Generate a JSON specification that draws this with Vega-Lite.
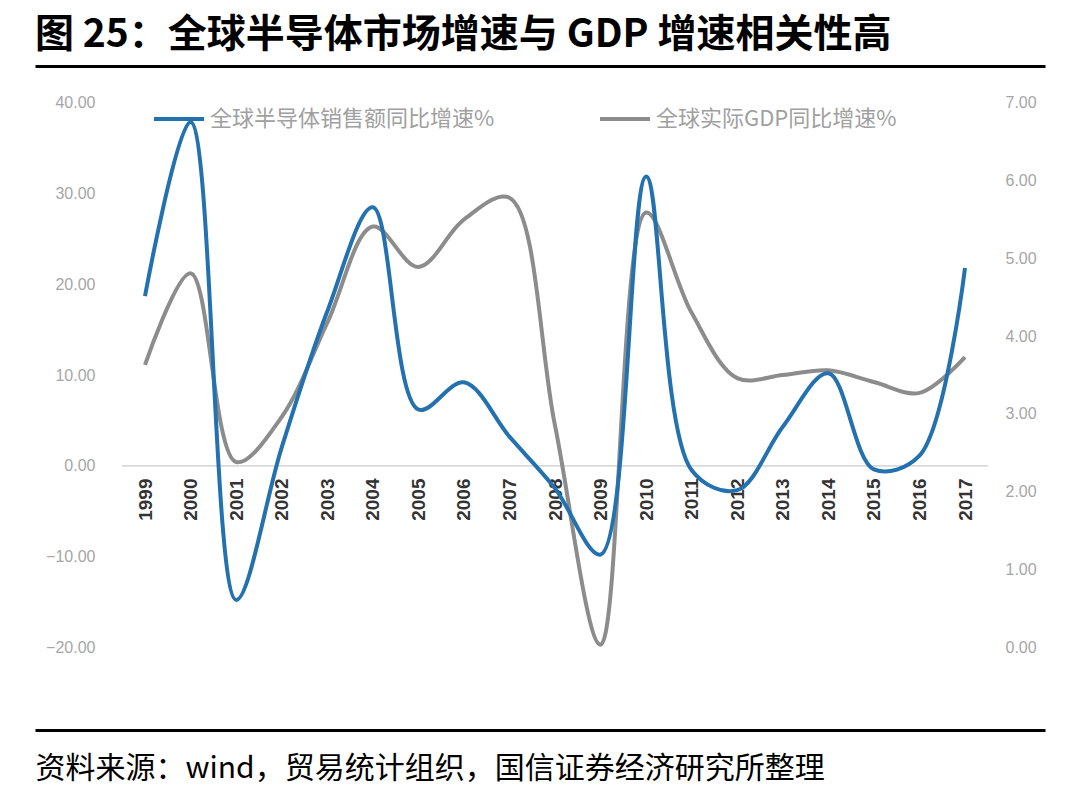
{
  "$schema": "https://vega.github.io/schema/vega-lite/v6.json",
  "width": 1010,
  "height": 664,
  "autosize": {"type": "none"},
  "padding": {"left": 35, "top": 66, "right": 35, "bottom": 64},
  "background": "white",
  "title": {
    "text": "图 25：全球半导体市场增速与 GDP 增速相关性高",
    "anchor": "start",
    "frame": "group",
    "font": "Noto Sans CJK SC",
    "fontSize": 39,
    "fontWeight": "bold",
    "color": "#000000",
    "offset": 11
  },
  "config": {"view": {"stroke": null}},
  "data": {
    "values": [
      {"year": "1999", "semi": 18.7, "gdp": 3.63},
      {"year": "2000", "semi": 37.9, "gdp": 4.81},
      {"year": "2001", "semi": -14.8, "gdp": 2.38},
      {"year": "2002", "semi": 2.0, "gdp": 2.96},
      {"year": "2003", "semi": 17.0, "gdp": 4.17},
      {"year": "2004", "semi": 28.5, "gdp": 5.41},
      {"year": "2005", "semi": 6.2, "gdp": 4.89},
      {"year": "2006", "semi": 9.2, "gdp": 5.5},
      {"year": "2007", "semi": 3.2, "gdp": 5.78},
      {"year": "2008", "semi": -2.5, "gdp": 2.85},
      {"year": "2009", "semi": -9.8, "gdp": 0.03},
      {"year": "2010", "semi": 31.9, "gdp": 5.59},
      {"year": "2011", "semi": -0.5, "gdp": 4.3},
      {"year": "2012", "semi": -2.7, "gdp": 3.46},
      {"year": "2013", "semi": 4.3, "gdp": 3.5},
      {"year": "2014", "semi": 10.2, "gdp": 3.56},
      {"year": "2015", "semi": -0.4, "gdp": 3.41},
      {"year": "2016", "semi": 1.1, "gdp": 3.27},
      {"year": "2017", "semi": 21.8, "gdp": 3.73}
    ]
  },
  "resolve": {
    "scale": {"x": "independent", "y": "independent"},
    "axis": {"x": "independent", "y": "independent"}
  },
  "layer": [
    {
      "data": {"values": [{}]},
      "mark": {"type": "rule", "color": "#d9d9d9", "strokeWidth": 1.5},
      "encoding": {
        "x": {
          "datum": 0,
          "type": "quantitative",
          "scale": {"domain": [-0.10046, 1.06582], "nice": false, "zero": false},
          "axis": {"orient": "top", "domain": true, "domainColor": "#000000", "domainWidth": 3, "labels": false, "ticks": false, "grid": false, "title": null}
        },
        "x2": {"datum": 1},
        "y": {
          "datum": 0,
          "type": "quantitative",
          "scale": {"domain": [-29.15, 44.08], "nice": false, "zero": false},
          "axis": null
        }
      }
    },
    {
      "data": {"values": [{}]},
      "mark": {"type": "rule", "color": "#d9d9d9", "strokeWidth": 1.5},
      "encoding": {
        "x": {
          "datum": 0,
          "type": "quantitative",
          "scale": {"domain": [-0.10046, 1.06582], "nice": false, "zero": false},
          "axis": {
            "orient": "bottom",
            "domain": true,
            "domainColor": "#000000",
            "domainWidth": 3,
            "labels": false,
            "ticks": false,
            "grid": false,
            "title": "资料来源：wind，贸易统计组织，国信证券经济研究所整理",
            "titleFont": "Noto Sans CJK SC",
            "titleFontSize": 30,
            "titleFontWeight": "normal",
            "titleColor": "#000000",
            "titleAnchor": "start",
            "titleAlign": "left",
            "titleBaseline": "middle",
            "titleX": 0,
            "titleY": 38
          }
        },
        "x2": {"datum": 1},
        "y": {
          "datum": 0,
          "type": "quantitative",
          "scale": {"domain": [-29.15, 44.08], "nice": false, "zero": false},
          "axis": null
        }
      }
    },
    {
      "mark": {"type": "line", "strokeWidth": 4, "interpolate": "catmull-rom"},
      "encoding": {
        "x": {
          "field": "year",
          "type": "ordinal",
          "scale": {"type": "point", "padding": 0, "range": [110, 930]},
          "axis": null
        },
        "y": {
          "field": "gdp",
          "type": "quantitative",
          "scale": {"domain": [-1.068, 7.476], "nice": false, "zero": false},
          "axis": {
            "orient": "right",
            "offset": -40,
            "values": [0, 1, 2, 3, 4, 5, 6, 7],
            "format": ".2f",
            "domain": false,
            "ticks": false,
            "tickSize": 0,
            "grid": false,
            "labelPadding": 0,
            "labelFont": "Liberation Sans",
            "labelFontSize": 16,
            "labelColor": "#a6a6a6",
            "title": null
          }
        },
        "color": {"datum": "全球实际GDP同比增速%"}
      }
    },
    {
      "mark": {"type": "line", "strokeWidth": 4, "interpolate": "catmull-rom"},
      "encoding": {
        "x": {
          "field": "year",
          "type": "ordinal",
          "scale": {"type": "point", "padding": 0, "range": [110, 930]},
          "axis": {
            "orient": "bottom",
            "offset": -264,
            "domain": false,
            "ticks": false,
            "grid": false,
            "labelAngle": 270,
            "labelPadding": 12,
            "labelFont": "Liberation Sans",
            "labelFontSize": 19,
            "labelFontWeight": "bold",
            "labelColor": "#333333",
            "title": null
          }
        },
        "y": {
          "field": "semi",
          "type": "quantitative",
          "scale": {"domain": [-29.15, 44.08], "nice": false, "zero": false},
          "axis": {
            "orient": "left",
            "offset": -60,
            "values": [-20, -10, 0, 10, 20, 30, 40],
            "format": ".2f",
            "domain": false,
            "ticks": false,
            "tickSize": 0,
            "grid": false,
            "labelPadding": 0,
            "labelFont": "Liberation Sans",
            "labelFontSize": 16,
            "labelColor": "#a6a6a6",
            "title": null
          }
        },
        "color": {
          "datum": "全球半导体销售额同比增速%",
          "scale": {
            "domain": ["全球半导体销售额同比增速%", "全球实际GDP同比增速%"],
            "range": ["#2471b0", "#8c8c8c"]
          },
          "legend": {
            "orient": "none",
            "legendX": 117,
            "legendY": 26,
            "direction": "horizontal",
            "title": null,
            "padding": 0,
            "symbolType": "stroke",
            "symbolSize": 2500,
            "symbolStrokeWidth": 4,
            "labelFont": "Noto Sans CJK SC",
            "labelFontSize": 22,
            "labelColor": "#a0a0a0",
            "labelOffset": 4,
            "labelLimit": 500,
            "columnPadding": 97
          }
        }
      }
    }
  ]
}
